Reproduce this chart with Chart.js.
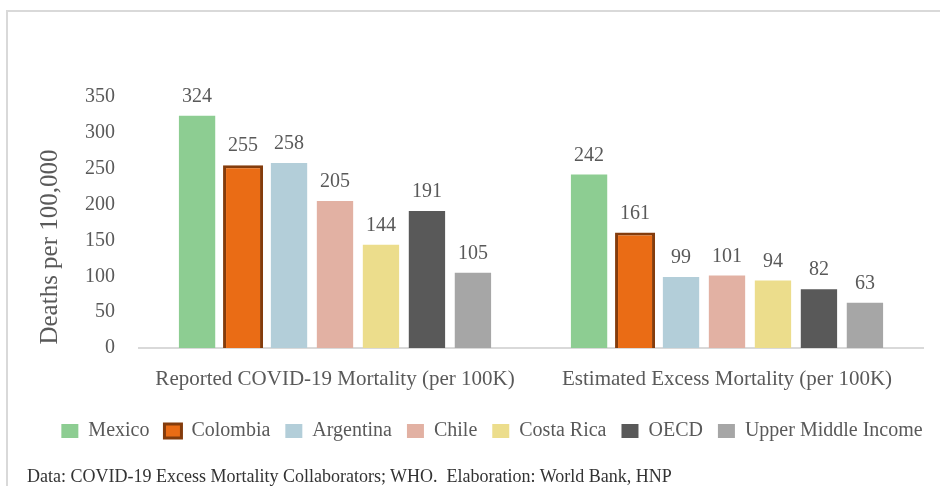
<!DOCTYPE html>
<html>
<head>
<meta charset="utf-8">
<script src="https://cdn.jsdelivr.net/npm/chart.js@4/dist/chart.umd.min.js"></script>
<style>
  html, body { margin: 0; padding: 0; background: #ffffff; }
  #wrap { position: relative; width: 940px; height: 486px; overflow: hidden; }
  #frame { position: absolute; left: 6px; top: 10px; width: 960px; height: 500px;
           border-left: 2px solid #d9d9d9; border-top: 2px solid #d9d9d9; }
  #chart { position: absolute; left: 0; top: 0; }
  #source { position: absolute; left: 27px; top: 466px; font: 18px 'Liberation Serif', serif;
            color: #333333; white-space: nowrap; }
</style>
</head>
<body>
<div id="wrap">
  <div id="frame"></div>
  <canvas id="chart" width="940" height="486"></canvas>
  <div id="source">Data: COVID-19 Excess Mortality Collaborators; WHO.&nbsp; Elaboration: World Bank, HNP</div>
</div>
<script>
// Deaths per 100,000 by country / group
const categories = ['Reported COVID-19 Mortality (per 100K)', 'Estimated Excess Mortality (per 100K)'];
const seriesNames = ['Mexico', 'Colombia', 'Argentina', 'Chile', 'Costa Rica', 'OECD', 'Upper Middle Income'];
const mexico = [324, 242];
const colombia = [255, 161];
const argentina = [258, 99];
const chile = [205, 101];
const costaRica = [144, 94];
const oecd = [191, 82];
const upperMiddleIncome = [105, 63];
const yTicks = [0, 50, 100, 150, 200, 250, 300, 350];
const yTitle = 'Deaths per 100,000';

const seriesValues = [mexico, colombia, argentina, chile, costaRica, oecd, upperMiddleIncome];
const fills = ['#8dcd92', '#ea6c15', '#b3ced9', '#e2b1a3', '#ecdd8c', '#595959', '#a6a6a6'];

const SERIF = "'Liberation Serif', 'Times New Roman', serif";
const TEXT = '#595959';

const datasets = seriesNames.map((name, i) => {
  const ds = {
    label: name,
    data: seriesValues[i],
    backgroundColor: fills[i],
    borderWidth: 0,
    categoryPercentage: 0.821,
    barPercentage: 0.79
  };
  if (name === 'Colombia') {
    ds.borderColor = '#843c0c';
    ds.borderWidth = 3;
    ds.barPercentage = 0.87;
  }
  return ds;
});

// value labels above each bar
const valueLabels = {
  id: 'valueLabels',
  afterDatasetsDraw(chart) {
    const ctx = chart.ctx;
    ctx.save();
    ctx.font = '20px ' + SERIF;
    ctx.fillStyle = TEXT;
    ctx.textAlign = 'center';
    ctx.textBaseline = 'middle';
    chart.data.datasets.forEach((ds, di) => {
      const meta = chart.getDatasetMeta(di);
      meta.data.forEach((bar, i) => {
        ctx.fillText(String(ds.data[i]), bar.x, bar.y - 19);
      });
    });
    ctx.restore();
  }
};

// rotated y-axis title
const yAxisTitle = {
  id: 'yAxisTitle',
  afterDraw(chart) {
    const a = chart.chartArea;
    const ctx = chart.ctx;
    ctx.save();
    ctx.translate(a.left - 89, a.bottom - 101);
    ctx.rotate(-Math.PI / 2);
    ctx.font = '25px ' + SERIF;
    ctx.fillStyle = TEXT;
    ctx.textAlign = 'center';
    ctx.textBaseline = 'middle';
    ctx.fillText(yTitle, 0, 0);
    ctx.restore();
  }
};

new Chart(document.getElementById('chart'), {
  type: 'bar',
  data: { labels: categories, datasets },
  plugins: [valueLabels, yAxisTitle],
  options: {
    responsive: false,
    animation: false,
    devicePixelRatio: 1,
    layout: { padding: { left: 44, right: 0, top: 97, bottom: 35 } },
    plugins: {
      tooltip: { enabled: false },
      legend: {
        position: 'bottom',
        labels: {
          boxWidth: 17,
          boxHeight: 14,
          padding: 15,
          color: TEXT,
          font: { family: SERIF, size: 20 }
        }
      }
    },
    scales: {
      x: {
        grid: { display: false, drawTicks: false },
        border: { display: true, color: '#d9d9d9', width: 2 },
        ticks: { color: TEXT, padding: 19, font: { family: SERIF, size: 21 } },
        afterFit(scale) { scale.height = 58; }
      },
      y: {
        min: 0,
        max: 350,
        grid: { display: false, drawTicks: false },
        border: { display: false },
        afterBuildTicks(scale) { scale.ticks = yTicks.map(v => ({ value: v })); },
        ticks: { color: TEXT, padding: 24, font: { family: SERIF, size: 20 } },
        afterFit(scale) { scale.width = 95; }
      },
      // blank margin on the right of the plot
      rightMargin: {
        type: 'linear',
        position: 'right',
        grid: { display: false, drawTicks: false },
        border: { display: false },
        ticks: { display: false },
        afterFit(scale) { scale.width = 17; }
      }
    }
  }
});
</script>
</body>
</html>
